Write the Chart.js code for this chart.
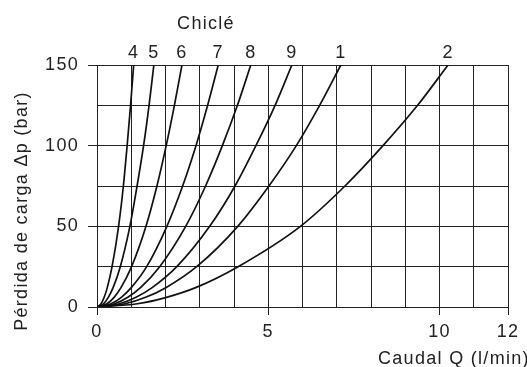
<!DOCTYPE html>
<html>
<head>
<meta charset="utf-8">
<script src="https://cdn.jsdelivr.net/npm/chart.js@4.4.1/dist/chart.umd.min.js"></script>
<style>
  html, body { margin: 0; padding: 0; background: #fff; }
  #wrap { width: 527px; height: 367px; }
</style>
</head>
<body>
<div id="wrap"><canvas id="chart" width="527" height="367"></canvas></div>
<script>
// ========== DATA ==========
// pressure drop levels (bar) at which the flow of each jet was read
const dpLevels = [0, 2, 6, 12, 25, 50, 75, 100, 125, 150];
// flow Q (l/min) for each jet at those levels
const jetNames = ['4', '5', '6', '7', '8', '9', '1', '2'];
const q4 = [0, 0.12, 0.21, 0.30, 0.44, 0.63, 0.77, 0.88, 0.98, 1.07];
const q5 = [0, 0.19, 0.33, 0.47, 0.68, 0.96, 1.17, 1.36, 1.52, 1.66];
const q6 = [0, 0.29, 0.50, 0.70, 1.01, 1.43, 1.75, 2.02, 2.26, 2.48];
const q7 = [0, 0.41, 0.71, 1.00, 1.45, 2.04, 2.50, 2.89, 3.23, 3.54];
const q8 = [0, 0.52, 0.90, 1.27, 1.83, 2.59, 3.17, 3.66, 4.10, 4.49];
const q9 = [0, 0.66, 1.14, 1.61, 2.33, 3.29, 4.03, 4.64, 5.20, 5.69];
const q1 = [0, 0.82, 1.42, 2.01, 2.91, 4.11, 5.02, 5.82, 6.50, 7.12];
const q2 = [0, 1.18, 2.03, 2.88, 4.12, 5.94, 7.24, 8.35, 9.36, 10.25];
const flows = [q4, q5, q6, q7, q8, q9, q1, q2];

const xLabeled = [0, 5, 10, 12];
const yLabeled = [0, 50, 100, 150];

const INK = '#222';
const FONT = 'Liberation Sans, Arial, sans-serif';

// ========== TEXT PLUGIN ==========
const textPlugin = {
    id: 'texts',
    beforeDraw(chart) {
        chart.ctx.letterSpacing = '1.3px';
    },
    afterDraw(chart) {
        const ctx = chart.ctx;
        const xs = chart.scales.x;
        ctx.save();
        ctx.letterSpacing = '1.3px';
        ctx.fillStyle = INK;
        ctx.font = '18px ' + FONT;
        ctx.textBaseline = 'alphabetic';

        // jet labels above the end of each curve
        ctx.textAlign = 'center';
        chart.data.datasets.forEach(ds => {
            const last = ds.data[ds.data.length - 1];
            ctx.fillText(ds.label, xs.getPixelForValue(last.x), 58);
        });

        ctx.fillText('Chiclé', 206, 29);

        // x title
        ctx.textAlign = 'left';
        ctx.fillText('Caudal Q (l/min)', 378, 364);

        // y title
        ctx.translate(27, 211);
        ctx.rotate(-Math.PI / 2);
        ctx.textAlign = 'center';
        ctx.fillText('Pérdida de carga Δp (bar)', 0, 0);
        ctx.restore();
    }
};

// ========== CHART ==========
const datasets = jetNames.map((name, i) => ({
    label: name,
    data: dpLevels.map((dp, j) => ({ x: flows[i][j], y: dp })),
    borderColor: '#111',
    borderWidth: 1.7,
    pointRadius: 0,
    fill: false,
    cubicInterpolationMode: 'monotone'
}));

new Chart(document.getElementById('chart'), {
    type: 'line',
    data: { datasets },
    plugins: [textPlugin],
    options: {
        responsive: false,
        animation: false,
        layout: { padding: { left: 0, right: 19, top: 65, bottom: 0 } },
        plugins: { legend: { display: false }, tooltip: { enabled: false } },
        scales: {
            x: {
                type: 'linear', min: 0, max: 12,
                afterFit(scale) { scale.height = 60; },
                border: { color: INK, width: 1 },
                grid: {
                    color: INK, lineWidth: 1, tickLength: 8,
                    tickColor: c => xLabeled.includes(c.tick.value) ? INK : 'rgba(0,0,0,0)'
                },
                ticks: {
                    stepSize: 1, autoSkip: false, maxRotation: 0, padding: 6,
                    color: INK, font: { family: FONT, size: 18 },
                    callback: v => xLabeled.includes(v) ? String(v) : ''
                }
            },
            y: {
                type: 'linear', min: 0, max: 150,
                afterFit(scale) { scale.width = 97; },
                border: { color: INK, width: 1 },
                grid: {
                    color: INK, lineWidth: 1, tickLength: 9,
                    tickColor: c => yLabeled.includes(c.tick.value) ? INK : 'rgba(0,0,0,0)'
                },
                ticks: {
                    stepSize: 25, autoSkip: false, padding: 9,
                    color: INK, font: { family: FONT, size: 18 },
                    callback: v => yLabeled.includes(v) ? String(v) : ''
                }
            }
        }
    }
});
</script>
</body>
</html>
